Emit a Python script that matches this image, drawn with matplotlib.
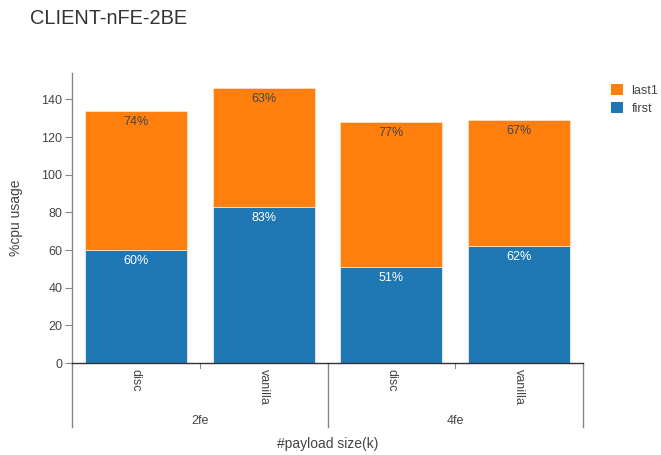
import matplotlib
matplotlib.use("Agg")
import matplotlib.pyplot as plt
from matplotlib.patches import Patch
from matplotlib.lines import Line2D

plt.rcParams['font.family'] = ['Liberation Sans', 'DejaVu Sans']

groups = ["2fe", "4fe"]
variants = ["disc", "vanilla"]
first = [60, 83, 51, 62]
last1 = [74, 63, 77, 67]
first_pct = ["60%", "83%", "51%", "62%"]
last1_pct = ["74%", "63%", "77%", "67%"]

BLUE = "#1f77b4"
ORANGE = "#ff7f0e"
TXT = "#444444"

fig = plt.figure(figsize=(6.61, 4.55), dpi=100)
ax = fig.add_axes([72/661, 1-363/455, (583-72)/661, (363-73)/455])

x = list(range(len(first)))
tot = [a + b for a, b in zip(first, last1)]
ax.bar(x, first, width=0.8, color=BLUE, edgecolor="#e8eef5", linewidth=0.6, label="first")
ax.bar(x, last1, bottom=first, width=0.8, color=ORANGE, edgecolor="#ffe0c4", linewidth=0.6, label="last1")

for xi, f, t, fp, lp in zip(x, first, tot, first_pct, last1_pct):
    ax.annotate(fp, (xi, f), xytext=(0, -11), textcoords="offset pixels",
                ha="center", va="center", color="white", fontsize=9)
    ax.annotate(lp, (xi, t), xytext=(0, -11), textcoords="offset pixels",
                ha="center", va="center", color=TXT, fontsize=9)

ax.set_xlim(-0.5, 3.5)
ax.set_ylim(0, 154)
ax.set_yticks(range(0, 141, 20))
ax.tick_params(axis="y", length=5, width=0.8, color="#888888", labelcolor=TXT, labelsize=9, pad=2)

# x axis: rotated variant labels, small ticks between bars within a group
ax.set_xticks(x)
ax.set_xticklabels([v for g in groups for v in variants], rotation=270, fontsize=9, color=TXT, va="top")
ax.tick_params(axis="x", length=0, pad=4)
for sx in [0.5, 2.5]:
    ax.add_line(Line2D([sx, sx], [0, -0.017], transform=ax.get_xaxis_transform(),
                       color="#888888", lw=0.8, clip_on=False))

for sp in ["top", "right"]:
    ax.spines[sp].set_visible(False)
ax.spines["left"].set_color("#888888")
ax.spines["left"].set_linewidth(1.0)
ax.spines["bottom"].set_color("#333333")
ax.spines["bottom"].set_linewidth(1.0)

# group separators and group labels
sep_depth = 64 / 290
for sx in [-0.5, 1.5, 3.5]:
    ax.add_line(Line2D([sx, sx], [0, -sep_depth], transform=ax.get_xaxis_transform(),
                       color="#888888", lw=1.0, clip_on=False))
for gi, g in enumerate(groups):
    ax.text(gi * 2 + 0.5, -(421 - 363) / 290, g, transform=ax.get_xaxis_transform(),
            ha="center", va="center", fontsize=9, color=TXT)

fig.text((72 + 583) / 2 / 661, 1 - 444 / 455, "#payload size(k)", ha="center", va="center",
         fontsize=10, color=TXT)
fig.text(16 / 661, 1 - 218 / 455, "%cpu usage", ha="center", va="center", rotation=90,
         fontsize=10, color=TXT)
fig.text(30 / 661, 1 - 19 / 455, "CLIENT-nFE-2BE", ha="left", va="center", fontsize=14.4, color="#333333")

handles = [Patch(facecolor=ORANGE, label="last1"), Patch(facecolor=BLUE, label="first")]
fig.legend(handles=handles, loc="upper left", bbox_to_anchor=(606 / 661, 1 - 79 / 455),
           frameon=False, fontsize=9, handlelength=0.95, handleheight=0.95,
           handletextpad=0.7, labelspacing=0.45, labelcolor=TXT, borderaxespad=0)

fig.savefig("out.png", dpi=100)
